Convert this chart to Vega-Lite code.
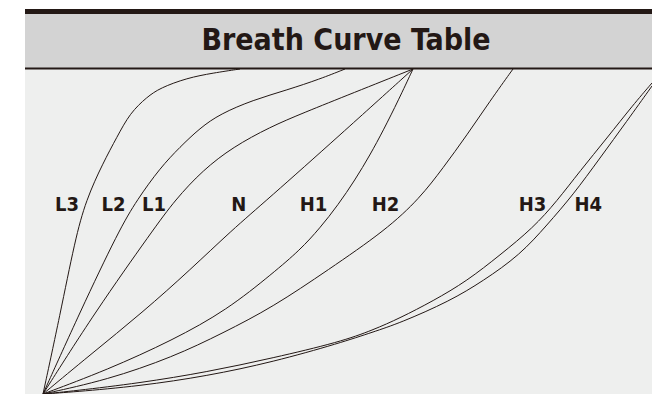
{
  "$schema": "https://vega.github.io/schema/vega-lite/v6.json",
  "width": 627,
  "height": 385,
  "autosize": "none",
  "padding": {"left": 25, "top": 9, "right": 0, "bottom": 0},
  "background": "white",
  "config": {"view": {"stroke": null, "fill": "#eeefee"}},
  "datasets": {
    "curves": [
      {"curve": "L3", "x": 0, "y": 0}, {"curve": "L3", "x": 17, "y": 79}, {"curve": "L3", "x": 32, "y": 154}, {"curve": "L3", "x": 43, "y": 194}, {"curve": "L3", "x": 60, "y": 231}, {"curve": "L3", "x": 74, "y": 257}, {"curve": "L3", "x": 87, "y": 281}, {"curve": "L3", "x": 104, "y": 297}, {"curve": "L3", "x": 117, "y": 306}, {"curve": "L3", "x": 144, "y": 316}, {"curve": "L3", "x": 170, "y": 321}, {"curve": "L3", "x": 197, "y": 325},
      {"curve": "L2", "x": 0, "y": 0}, {"curve": "L2", "x": 37, "y": 82}, {"curve": "L2", "x": 76, "y": 164}, {"curve": "L2", "x": 94, "y": 194}, {"curve": "L2", "x": 117, "y": 226}, {"curve": "L2", "x": 137, "y": 247}, {"curve": "L2", "x": 157, "y": 266}, {"curve": "L2", "x": 177, "y": 280}, {"curve": "L2", "x": 210, "y": 294}, {"curve": "L2", "x": 244, "y": 304}, {"curve": "L2", "x": 277, "y": 315}, {"curve": "L2", "x": 302, "y": 325},
      {"curve": "L1", "x": 0, "y": 0}, {"curve": "L1", "x": 52, "y": 82}, {"curve": "L1", "x": 110, "y": 164}, {"curve": "L1", "x": 132, "y": 194}, {"curve": "L1", "x": 160, "y": 224}, {"curve": "L1", "x": 190, "y": 247}, {"curve": "L1", "x": 227, "y": 267}, {"curve": "L1", "x": 260, "y": 281}, {"curve": "L1", "x": 310, "y": 301}, {"curve": "L1", "x": 370, "y": 325},
      {"curve": "N", "x": 0, "y": 0}, {"curve": "N", "x": 47, "y": 39}, {"curve": "N", "x": 100, "y": 82}, {"curve": "N", "x": 147, "y": 124}, {"curve": "N", "x": 189, "y": 164}, {"curve": "N", "x": 224, "y": 194}, {"curve": "N", "x": 297, "y": 259}, {"curve": "N", "x": 370, "y": 325},
      {"curve": "H1", "x": 0, "y": 0}, {"curve": "H1", "x": 64, "y": 24}, {"curve": "H1", "x": 130, "y": 54}, {"curve": "H1", "x": 184, "y": 84}, {"curve": "H1", "x": 230, "y": 121}, {"curve": "H1", "x": 257, "y": 144}, {"curve": "H1", "x": 277, "y": 166}, {"curve": "H1", "x": 295, "y": 189}, {"curve": "H1", "x": 312, "y": 214}, {"curve": "H1", "x": 327, "y": 239}, {"curve": "H1", "x": 340.5, "y": 264}, {"curve": "H1", "x": 355.5, "y": 294}, {"curve": "H1", "x": 370, "y": 325},
      {"curve": "H2", "x": 0, "y": 0}, {"curve": "H2", "x": 64, "y": 14}, {"curve": "H2", "x": 130, "y": 37}, {"curve": "H2", "x": 180, "y": 61}, {"curve": "H2", "x": 230, "y": 87}, {"curve": "H2", "x": 285, "y": 124}, {"curve": "H2", "x": 343, "y": 164}, {"curve": "H2", "x": 377, "y": 196}, {"curve": "H2", "x": 400, "y": 226}, {"curve": "H2", "x": 424, "y": 259}, {"curve": "H2", "x": 447, "y": 293}, {"curve": "H2", "x": 470, "y": 325},
      {"curve": "H3", "x": 0, "y": 0}, {"curve": "H3", "x": 30, "y": 3}, {"curve": "H3", "x": 97, "y": 11}, {"curve": "H3", "x": 164, "y": 22}, {"curve": "H3", "x": 230, "y": 36}, {"curve": "H3", "x": 297, "y": 52}, {"curve": "H3", "x": 330, "y": 64}, {"curve": "H3", "x": 357, "y": 76}, {"curve": "H3", "x": 390, "y": 93}, {"curve": "H3", "x": 424, "y": 113}, {"curve": "H3", "x": 457, "y": 139}, {"curve": "H3", "x": 490, "y": 166}, {"curve": "H3", "x": 514, "y": 193}, {"curve": "H3", "x": 537, "y": 223}, {"curve": "H3", "x": 564, "y": 256}, {"curve": "H3", "x": 590, "y": 289}, {"curve": "H3", "x": 609, "y": 311},
      {"curve": "H4", "x": 0, "y": 0}, {"curve": "H4", "x": 30, "y": 2}, {"curve": "H4", "x": 97, "y": 8}, {"curve": "H4", "x": 164, "y": 18}, {"curve": "H4", "x": 230, "y": 32}, {"curve": "H4", "x": 297, "y": 51}, {"curve": "H4", "x": 330, "y": 62}, {"curve": "H4", "x": 357, "y": 71}, {"curve": "H4", "x": 407, "y": 93}, {"curve": "H4", "x": 440, "y": 113}, {"curve": "H4", "x": 477, "y": 139}, {"curve": "H4", "x": 504, "y": 169}, {"curve": "H4", "x": 530, "y": 199}, {"curve": "H4", "x": 557, "y": 236}, {"curve": "H4", "x": 584, "y": 273}, {"curve": "H4", "x": 609, "y": 308}
    ],
    "labels": [
      {"label": "L3", "x": 24, "y": 189},
      {"label": "L2", "x": 70.5, "y": 189},
      {"label": "L1", "x": 111, "y": 189},
      {"label": "N", "x": 195.7, "y": 189},
      {"label": "H1", "x": 270.5, "y": 189},
      {"label": "H2", "x": 342.5, "y": 189},
      {"label": "H3", "x": 489.5, "y": 189},
      {"label": "H4", "x": 545.3, "y": 189}
    ]
  },
  "layer": [
    {
      "data": {"values": [{"part": "band"}]},
      "mark": {"type": "rect", "fill": "#d3d3d3"},
      "encoding": {
        "x": {"datum": -18, "type": "quantitative", "scale": {"domain": [-18, 609], "nice": false, "zero": false}, "axis": null},
        "x2": {"datum": 609},
        "y": {"datum": 326, "type": "quantitative", "scale": {"domain": [0, 385], "nice": false, "zero": false}, "axis": null},
        "y2": {"datum": 380}
      }
    },
    {
      "data": {"values": [{"part": "topbar"}]},
      "mark": {"type": "rect", "fill": "#231815"},
      "encoding": {
        "x": {"datum": -18, "type": "quantitative"},
        "x2": {"datum": 609},
        "y": {"datum": 380, "type": "quantitative"},
        "y2": {"datum": 385}
      }
    },
    {
      "data": {"values": [{"part": "divider"}]},
      "mark": {"type": "rule", "stroke": "#231815", "strokeWidth": 2},
      "encoding": {
        "x": {"datum": -18, "type": "quantitative"},
        "x2": {"datum": 609},
        "y": {"datum": 325.5, "type": "quantitative"}
      }
    },
    {
      "data": {"name": "curves"},
      "mark": {"type": "line", "interpolate": "basis", "stroke": "#231815", "strokeWidth": 1, "clip": true},
      "encoding": {
        "x": {"field": "x", "type": "quantitative"},
        "y": {"field": "y", "type": "quantitative"},
        "detail": {"field": "curve", "type": "nominal"}
      }
    },
    {
      "data": {"name": "labels"},
      "mark": {"type": "text", "font": "DejaVu Sans Condensed, Liberation Sans, sans-serif", "fontWeight": "bold", "fontSize": 20, "fill": "#231815", "align": "center", "baseline": "middle"},
      "encoding": {
        "x": {"field": "x", "type": "quantitative"},
        "y": {"field": "y", "type": "quantitative"},
        "text": {"field": "label", "type": "nominal"}
      }
    },
    {
      "data": {"values": [{"title": "Breath Curve Table"}]},
      "mark": {"type": "text", "font": "DejaVu Sans Condensed, Liberation Sans, sans-serif", "fontWeight": "bold", "fontSize": 30, "fill": "#231815", "align": "center", "baseline": "middle"},
      "encoding": {
        "x": {"datum": 303, "type": "quantitative"},
        "y": {"datum": 353, "type": "quantitative"},
        "text": {"field": "title", "type": "nominal"}
      }
    }
  ]
}
